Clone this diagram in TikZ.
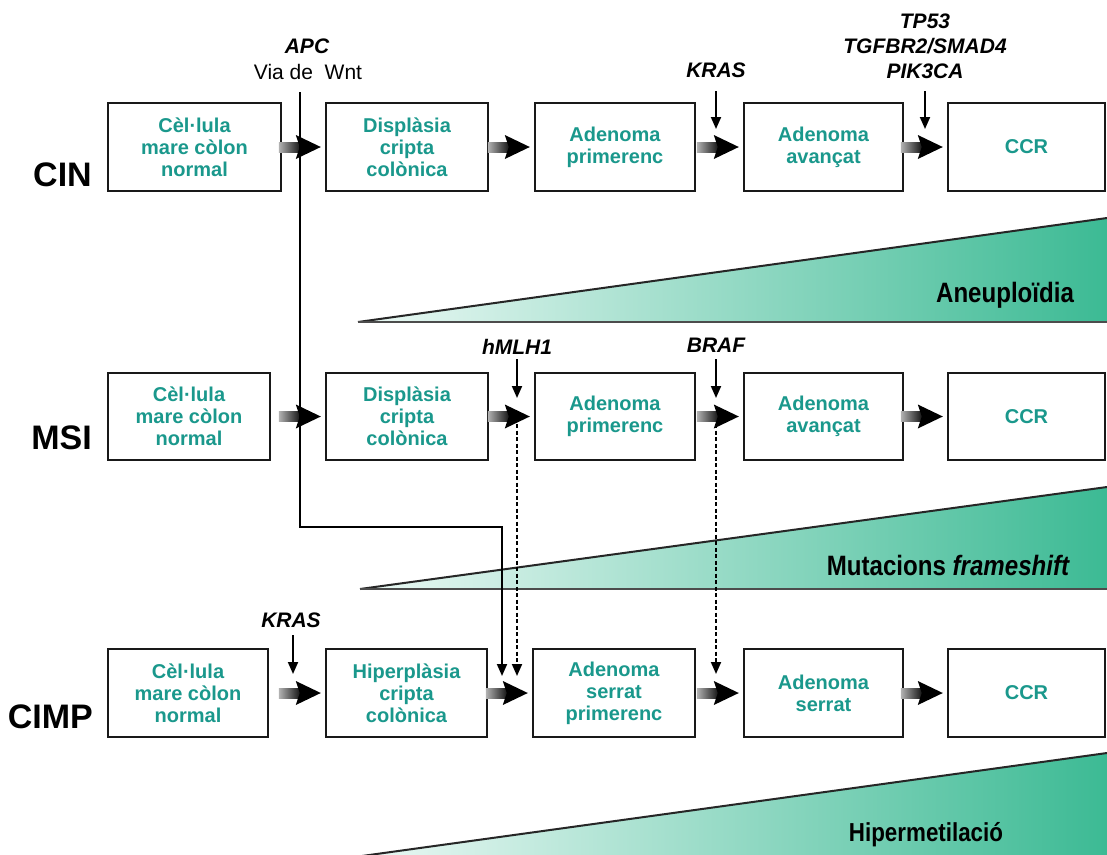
\documentclass[tikz,border=0pt]{standalone}
\usepackage{fontspec}
\setmainfont{Liberation Sans}
\newfontfamily\narrowfont[FakeStretch=0.86]{Liberation Sans}
\usetikzlibrary{arrows.meta,calc}
\definecolor{tealtxt}{RGB}{26,152,140}
\definecolor{wedgedark}{RGB}{60,186,148}
\definecolor{wedgelight}{RGB}{236,249,245}
\newcommand\fatarrow[1]{%
  \shade[left color=black!30,right color=black] ($(#1.west)+(-46,-5)$) rectangle ($(#1.west)+(-22,5)$);
  \fill[black] ($(#1.west)+(-29,-12)$) -- ($(#1.west)+(-4,0)$) -- ($(#1.west)+(-29,12)$) -- ($(#1.west)+(-25,0)$) -- cycle;
}
\begin{document}
\begin{tikzpicture}[x=1pt,y=-1pt,
  box/.style={draw=black!90,line width=2.4pt,fill=white,font=\fontsize{20}{22}\selectfont\bfseries,text=tealtxt,align=center,inner sep=0pt,minimum height=88pt},
  gene/.style={font=\fontsize{21}{25}\selectfont\bfseries\itshape,inner sep=0pt,align=center},
  plain/.style={font=\fontsize{21}{25}\selectfont,inner sep=0pt},
  rowlab/.style={font=\fontsize{34}{36}\selectfont\bfseries,anchor=east,inner sep=0pt},
  wedgelab/.style={font=\narrowfont\fontsize{28}{30}\selectfont\bfseries,inner sep=0pt},
  thinarr/.style={line width=1.9pt,-{Triangle[length=12pt,width=10pt]}},
  dotarr/.style={thinarr,dash pattern=on 4pt off 2.5pt},
  wedgeline/.style={line width=2pt,draw=black!85},
]
\useasboundingbox (0,0) rectangle (1107,854);
\clip (0,0) rectangle (1107,854);
\fill[white] (0,0) rectangle (1107,854);

% wedges
\shade[left color=wedgelight,right color=wedgedark] (358,322) -- (1107,218) -- (1107,322) -- cycle;
\draw[wedgeline] (358,322) -- (1107,218);
\draw[wedgeline,draw=black!70] (358,322) -- (1107,322);
\shade[left color=wedgelight,right color=wedgedark] (360,589) -- (1107,487) -- (1107,589) -- cycle;
\draw[wedgeline] (360,589) -- (1107,487);
\draw[wedgeline,draw=black!70] (360,589) -- (1107,589);
\shade[left color=wedgelight,right color=wedgedark] (362,856) -- (1107,753) -- (1107,860) -- (362,860) -- cycle;
\draw[wedgeline] (362,856) -- (1107,753);

\node[wedgelab] (wl1) at (1005,295) {Aneuploïdia};
\node[wedgelab] (wl2) at (948,565) {Mutacions \itshape frameshift};
\node[wedgelab,font=\narrowfont\fontsize{26}{30}\selectfont\bfseries] (wl3) at (926,835) {Hipermetilació};

% row labels
\node[rowlab] (lcin) at (92,175) {CIN};
\node[rowlab] (lmsi) at (92,438) {MSI};
\node[rowlab] (lcimp) at (93,717) {CIMP};

% CIN row
\node[box,minimum width=173pt] (c1) at (194.5,147) {Cèl·lula\\mare còlon\\normal};
\node[box,minimum width=162pt] (c2) at (407,147) {Displàsia\\cripta\\colònica};
\node[box,minimum width=160pt] (c3) at (615,147) {Adenoma\\primerenc};
\node[box,minimum width=159pt] (c4) at (823.5,147) {Adenoma\\avançat};
\node[box,minimum width=157pt] (c5) at (1026.5,147) {CCR};

% MSI row
\node[box,minimum width=162pt,minimum height=87pt] (m1) at (189,416.5) {Cèl·lula\\mare còlon\\normal};
\node[box,minimum width=162pt,minimum height=87pt] (m2) at (407,416.5) {Displàsia\\cripta\\colònica};
\node[box,minimum width=160pt,minimum height=87pt] (m3) at (615,416.5) {Adenoma\\primerenc};
\node[box,minimum width=159pt,minimum height=87pt] (m4) at (823.5,416.5) {Adenoma\\avançat};
\node[box,minimum width=157pt,minimum height=87pt] (m5) at (1026.5,416.5) {CCR};

% CIMP row
\node[box,minimum width=160pt] (p1) at (188,693) {Cèl·lula\\mare còlon\\normal};
\node[box,minimum width=161pt] (p2) at (406.5,693) {Hiperplàsia\\cripta\\colònica};
\node[box,minimum width=162pt] (p3) at (614,693) {Adenoma\\serrat\\primerenc};
\node[box,minimum width=159pt] (p4) at (823.5,693) {Adenoma\\serrat};
\node[box,minimum width=157pt] (p5) at (1026.5,693) {CCR};

% fat arrows
\fatarrow{c2}\fatarrow{c3}\fatarrow{c4}\fatarrow{c5}
\fatarrow{m2}\fatarrow{m3}\fatarrow{m4}\fatarrow{m5}
\fatarrow{p2}\fatarrow{p3}\fatarrow{p4}\fatarrow{p5}

% gene labels
\node[gene] (apc) at (307,46) {APC};
\node[plain] (wnt) at (308,72) {Via de\ \ Wnt};
\node[gene] (kras1) at (716,70) {KRAS};
\node[gene] (tp53) at (925,46) {TP53\\TGFBR2/SMAD4\\PIK3CA};
\node[gene] (hmlh1) at (517,347) {hMLH1};
\node[gene] (braf) at (716,345) {BRAF};
\node[gene] (kras3) at (291,620) {KRAS};

% connector end points
\coordinate (apcS) at (300,92);
\coordinate (apcB1) at (300,527);
\coordinate (apcB2) at (502,527);
\coordinate (apcE) at (502,676);
\coordinate (k1S) at (716,91);
\coordinate (k1E) at (716,129);
\coordinate (tpS) at (925,91);
\coordinate (tpE) at (925,129);
\coordinate (hmS) at (517,359);
\coordinate (hmE) at (517,398);
\coordinate (hmD) at (517,424);
\coordinate (hmDE) at (517,676);
\coordinate (brS) at (716,359);
\coordinate (brE) at (716,398);
\coordinate (brD) at (716,424);
\coordinate (brDE) at (716,674);
\coordinate (k3S) at (293,635);
\coordinate (k3E) at (293,674);

\draw[thinarr] (apcS) -- (apcB1) -- (apcB2) -- (apcE);
\draw[thinarr] (k1S) -- (k1E);
\draw[thinarr] (tpS) -- (tpE);
\draw[thinarr] (hmS) -- (hmE);
\draw[thinarr] (brS) -- (brE);
\draw[thinarr] (k3S) -- (k3E);
\draw[dotarr] (hmD) -- (hmDE);
\draw[dotarr] (brD) -- (brDE);
\end{tikzpicture}
\end{document}
